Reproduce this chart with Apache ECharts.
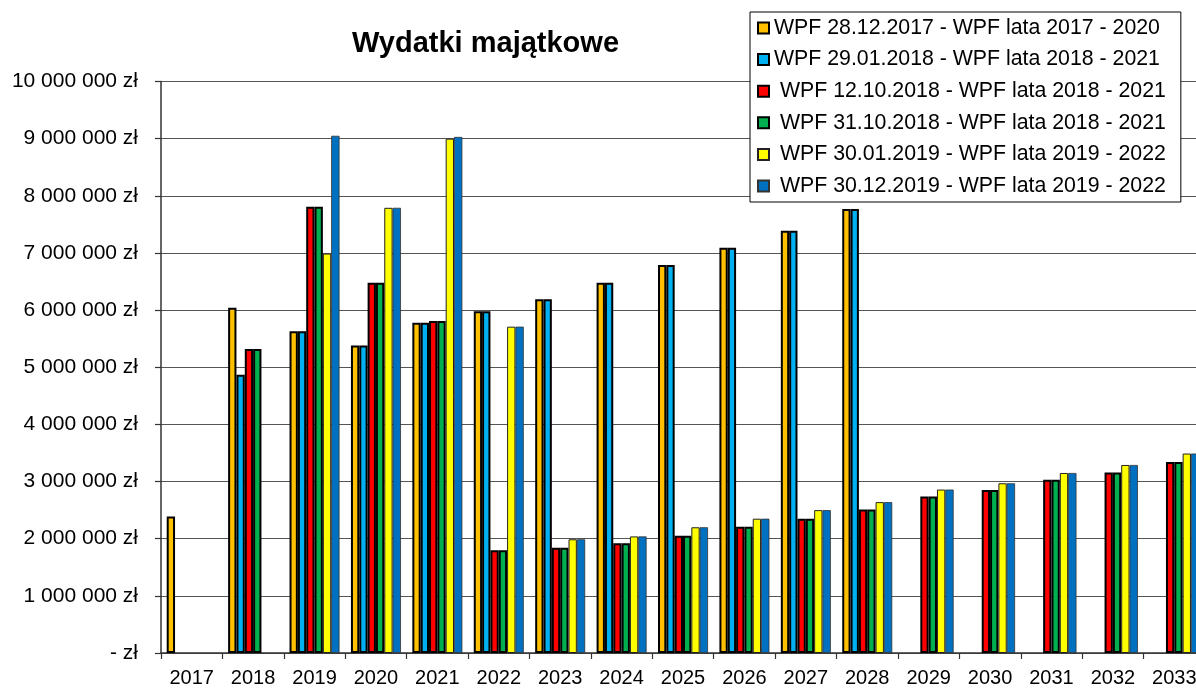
<!DOCTYPE html>
<html>
<head>
<meta charset="utf-8">
<script src="https://cdn.jsdelivr.net/npm/echarts@6/dist/echarts.min.js"></script>
<style>
html,body{margin:0;padding:0;background:#fff;}
#chart{width:1196px;height:690px;}
</style>
</head>
<body>
<div id="chart"></div>
<script>
const categories = ['2017','2018','2019','2020','2021','2022','2023','2024','2025','2026','2027','2028','2029','2030','2031','2032','2033'];
const seriesNames = [
  'WPF 28.12.2017 - WPF lata 2017 - 2020',
  'WPF 29.01.2018 - WPF lata 2018 - 2021',
  'WPF 12.10.2018 - WPF lata 2018 - 2021',
  'WPF 31.10.2018 - WPF lata 2018 - 2021',
  'WPF 30.01.2019 - WPF lata 2019 - 2022',
  'WPF 30.12.2019 - WPF lata 2019 - 2022'
];
const wpf20171228 = [2390000, 6040000, 5630000, 5380000, 5780000, 5980000, 6190000, 6480000, 6790000, 7090000, 7390000, 7770000, null, null, null, null, null];
const wpf20180129 = [null, 4870000, 5630000, 5380000, 5780000, 5980000, 6190000, 6480000, 6790000, 7090000, 7390000, 7770000, null, null, null, null, null];
const wpf20181012 = [null, 5320000, 7810000, 6480000, 5810000, 1800000, 1840000, 1920000, 2050000, 2210000, 2350000, 2510000, 2740000, 2850000, 3030000, 3160000, 3340000];
const wpf20181031 = [null, 5320000, 7810000, 6480000, 5810000, 1800000, 1840000, 1920000, 2050000, 2210000, 2350000, 2510000, 2740000, 2850000, 3030000, 3160000, 3340000];
const wpf20190130 = [null, null, 6990000, 7790000, 9000000, 5710000, 1990000, 2040000, 2200000, 2350000, 2500000, 2640000, 2860000, 2970000, 3150000, 3290000, 3490000];
const wpf20191230 = [null, null, 9050000, 7790000, 9030000, 5710000, 1990000, 2040000, 2200000, 2350000, 2500000, 2640000, 2860000, 2970000, 3150000, 3290000, 3490000];
const yTicks = [0, 1000000, 2000000, 3000000, 4000000, 5000000, 6000000, 7000000, 8000000, 9000000, 10000000];

const seriesData = [wpf20171228, wpf20180129, wpf20181012, wpf20181031, wpf20190130, wpf20191230];
const colors = ['#FFC000', '#00B0F0', '#FF0000', '#00B050', '#FFFF00', '#0070C0'];
const borders = [
  {c:'#000', w:2}, {c:'#000', w:2}, {c:'#000', w:2}, {c:'#000', w:2},
  {c:'#222', w:1}, {c:'#333', w:0.8}
];
const FONT = '"Liberation Sans", Arial, sans-serif';

function fmt(v){
  if (v === 0) return '- zł';
  return String(v).replace(/\B(?=(\d{3})+(?!\d))/g, ' ') + ' zł';
}

const chart = echarts.init(document.getElementById('chart'), null, {renderer:'canvas'});
chart.setOption({
  animation: false,
  backgroundColor: '#fff',
  textStyle: {fontFamily: FONT},
  title: {
    text: 'Wydatki majątkowe',
    left: 352, top: 29, padding: 0,
    textStyle: {fontFamily: FONT, fontSize: 29, fontWeight: 'bold', color: '#000'}
  },
  legend: {
    orient: 'vertical',
    left: 750, top: 12,
    padding: [5, 15, 5, 7],
    itemWidth: 11, itemHeight: 11,
    itemGap: 9.6,
    backgroundColor: '#fff',
    borderColor: '#000', borderWidth: 1,
    icon: 'rect',
    formatter: function(name){ return seriesNames.indexOf(name) >= 2 ? ' ' + name : name; },
    textStyle: {fontFamily: FONT, fontSize: 21.3, color: '#000', lineHeight: 22},
    data: seriesNames
  },
  grid: {
    left: 161, top: 81.5, width: 1044, bottom: 37,
    containLabel: false,
    outerBoundsMode: 'none'
  },
  xAxis: {
    type: 'category',
    data: categories,
    axisLine: {show: true, lineStyle: {color: '#333', width: 1.5}},
    axisTick: {show: true, length: 6, lineStyle: {color: '#333', width: 1.2}},
    axisLabel: {fontFamily: FONT, fontSize: 20, color: '#000', margin: 15, interval: 0},
    splitLine: {show: false}
  },
  yAxis: {
    type: 'value',
    min: yTicks[0], max: yTicks[yTicks.length - 1], interval: yTicks[1] - yTicks[0],
    axisLine: {show: true, lineStyle: {color: '#333', width: 1.5}},
    axisTick: {show: true, length: 6, lineStyle: {color: '#333', width: 1.2}},
    axisLabel: {fontFamily: FONT, fontSize: 21, color: '#000', margin: 23, formatter: fmt},
    splitLine: {show: true, lineStyle: {color: '#555', width: 1.2}}
  },
  series: seriesData.map((d, i) => ({
    name: seriesNames[i],
    type: 'bar',
    data: d,
    barGap: '0%',
    barCategoryGap: '18.6%',
    itemStyle: {color: colors[i], borderColor: borders[i].c, borderWidth: borders[i].w}
  }))
});
</script>
</body>
</html>
